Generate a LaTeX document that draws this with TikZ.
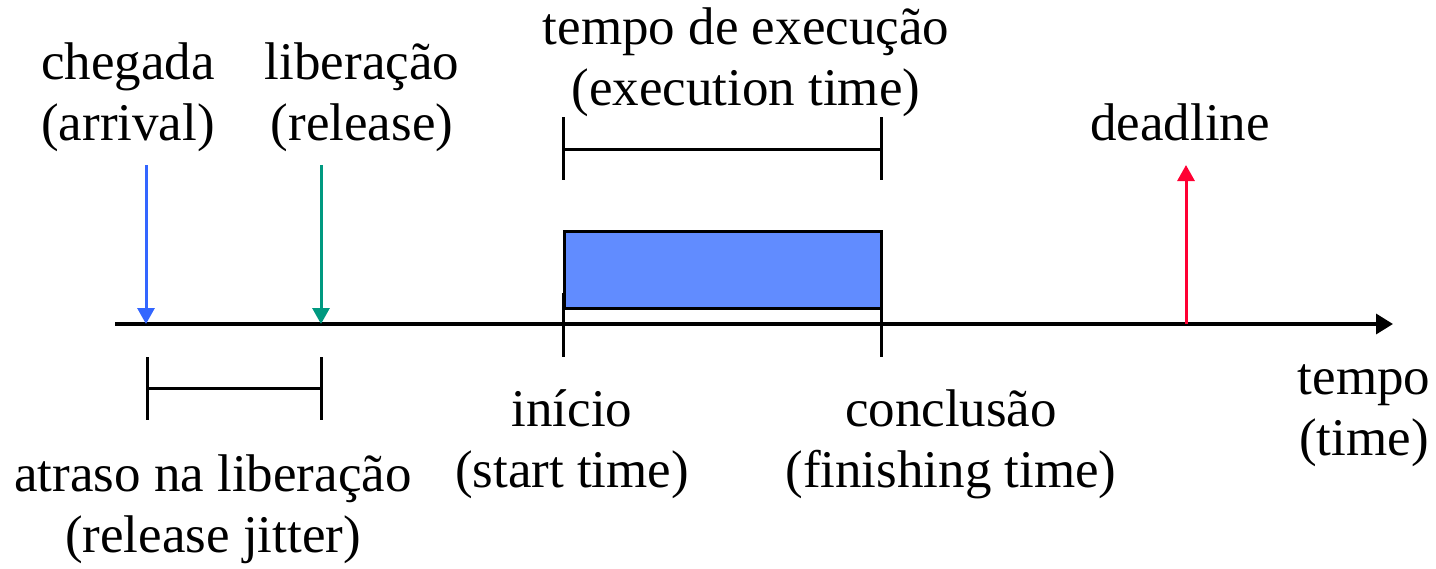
\documentclass[tikz,border=0pt]{standalone}
\usepackage{fontspec}
\setmainfont{Liberation Serif}
\usetikzlibrary{arrows.meta, positioning}
\definecolor{arrivalblue}{RGB}{51, 102, 255}
\definecolor{releaseteal}{RGB}{0, 153, 128}
\definecolor{deadlinered}{RGB}{255, 0, 51}
\definecolor{execblue}{RGB}{97, 140, 255}

\begin{document}
\begin{tikzpicture}[
    x=1pt, y=-1pt,
    every node/.style={font=\fontsize{53}{61}\selectfont, align=center, anchor=base, inner sep=0pt},
    event/.style={-{Triangle[length=16pt, width=17pt]}, line width=3pt},
    tick/.style={line width=3pt},
    axis/.style={-{Triangle[length=17pt, width=20pt]}, line width=3.5pt}
]
\useasboundingbox (0,0) rectangle (1436,568);

% time axis
\coordinate (t0) at (115,324);
\coordinate (tend) at (1393,324);
\draw[axis] (t0) -- (tend);
\node (tempo) at (1364,455) {tempo\\(time)};

% arrival and release
\node (chegada) at (128,140) {chegada\\(arrival)};
\node (liberacao) at (362,140) {liberação\\(release)};
\coordinate (arrtop) at (146,165);
\coordinate (arr) at (146,324);
\coordinate (reltop) at (321,165);
\coordinate (rel) at (321,324);
\draw[event, arrivalblue] (arrtop) -- (arr);
\draw[event, releaseteal] (reltop) -- (rel);

% release jitter bracket
\draw[tick] (147,357) -- (147,420);
\draw[tick] (321,357) -- (321,420);
\draw[tick] (147,388) -- (321,388);
\node (jitter) at (213,552) {atraso na liberação\\(release jitter)};

% execution of the job
\node[draw, line width=3pt, fill=execblue, minimum width=317pt, minimum height=77pt, anchor=north west] (job) at (563,230) {};
\draw[tick] (563,293) -- (563,357);
\draw[tick] (881,293) -- (881,357);
\node (inicio) at (572,487) {início\\(start time)};
\node (conclusao) at (951,487) {conclusão\\(finishing time)};

% execution time bracket
\draw[tick] (563,117) -- (563,180);
\draw[tick] (881,117) -- (881,180);
\draw[tick] (563,149) -- (881,149);
\node (exec) at (746,105) {tempo de execução\\(execution time)};

% deadline
\coordinate (dl) at (1186,324);
\coordinate (dltop) at (1186,165);
\draw[event, deadlinered] (dl) -- (dltop);
\node (deadline) at (1180,140) {deadline};
\end{tikzpicture}
\end{document}
